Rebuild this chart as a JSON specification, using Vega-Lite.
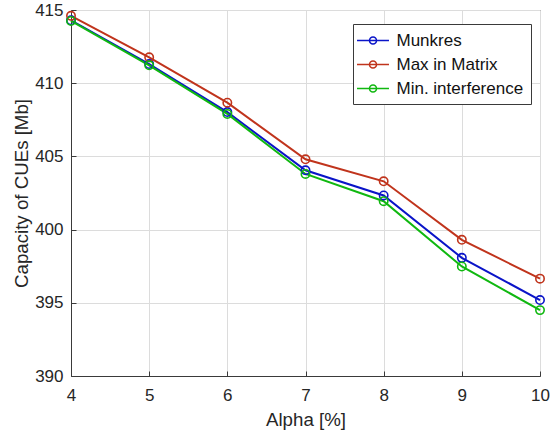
{
  "$schema": "https://vega.github.io/schema/vega-lite/v6.json",
  "width": 469,
  "height": 366,
  "autosize": "none",
  "padding": {"left": 71, "top": 10, "right": 10, "bottom": 61},
  "background": "white",
  "config": {
    "font": "Liberation Sans",
    "view": {"stroke": "#3a3a3a", "strokeWidth": 1},
    "axis": {
      "gridColor": "#dcdcdc",
      "gridWidth": 1,
      "domainColor": "#3a3a3a",
      "labelColor": "#262626",
      "titleColor": "#262626",
      "labelFont": "Liberation Sans",
      "titleFont": "Liberation Sans",
      "labelFontSize": 17,
      "titleFontSize": 18.7,
      "titleFontWeight": "normal",
      "ticks": true,
      "tickSize": -5,
      "tickColor": "#3a3a3a"
    },
    "legend": {
      "labelFont": "Liberation Sans",
      "labelFontSize": 17,
      "labelColor": "#111111"
    }
  },
  "data": {
    "values": [
      {"alpha": 4, "value": 414.3, "method": "Munkres"},
      {"alpha": 5, "value": 411.31, "method": "Munkres"},
      {"alpha": 6, "value": 408.03, "method": "Munkres"},
      {"alpha": 7, "value": 404.05, "method": "Munkres"},
      {"alpha": 8, "value": 402.33, "method": "Munkres"},
      {"alpha": 9, "value": 398.07, "method": "Munkres"},
      {"alpha": 10, "value": 395.19, "method": "Munkres"},
      {"alpha": 4, "value": 414.6, "method": "Max in Matrix"},
      {"alpha": 5, "value": 411.77, "method": "Max in Matrix"},
      {"alpha": 6, "value": 408.67, "method": "Max in Matrix"},
      {"alpha": 7, "value": 404.8, "method": "Max in Matrix"},
      {"alpha": 8, "value": 403.3, "method": "Max in Matrix"},
      {"alpha": 9, "value": 399.3, "method": "Max in Matrix"},
      {"alpha": 10, "value": 396.65, "method": "Max in Matrix"},
      {"alpha": 4, "value": 414.25, "method": "Min. interference"},
      {"alpha": 5, "value": 411.22, "method": "Min. interference"},
      {"alpha": 6, "value": 407.9, "method": "Min. interference"},
      {"alpha": 7, "value": 403.8, "method": "Min. interference"},
      {"alpha": 8, "value": 401.94, "method": "Min. interference"},
      {"alpha": 9, "value": 397.48, "method": "Min. interference"},
      {"alpha": 10, "value": 394.5, "method": "Min. interference"}
    ]
  },
  "encoding": {
    "x": {
      "field": "alpha",
      "type": "quantitative",
      "scale": {"domain": [4, 10], "nice": false, "zero": false},
      "axis": {"title": "Alpha [%]", "values": [4, 5, 6, 7, 8, 9, 10], "labelPadding": 16, "titlePadding": 7, "labelFlush": false}
    },
    "y": {
      "field": "value",
      "type": "quantitative",
      "scale": {"domain": [390, 415], "nice": false, "zero": false},
      "axis": {"title": "Capacity of CUEs [Mb]", "values": [390, 395, 400, 405, 410, 415], "labelPadding": 13, "titlePadding": 3, "labelFlush": false}
    },
    "color": {
      "field": "method",
      "type": "nominal",
      "scale": {
        "domain": ["Munkres", "Max in Matrix", "Min. interference"],
        "range": ["#0a14c8", "#c0341c", "#10b810"]
      },
      "legend": {
        "title": null,
        "orient": "none",
        "legendX": 282,
        "legendY": 14,
        "fillColor": "white",
        "strokeColor": "#3a3a3a",
        "padding": 7,
        "symbolType": "M-1.88,0H1.88M0.41,0A0.41,0.41,0,1,1,-0.41,0A0.41,0.41,0,1,1,0.41,0",
        "symbolSize": 289,
        "symbolStrokeWidth": 1.6,
        "symbolFillColor": "transparent",
        "symbolOffset": 3.5,
        "rowPadding": 6,
        "labelOffset": 14
      }
    }
  },
  "layer": [
    {
      "mark": {"type": "line", "strokeWidth": 2},
      "encoding": {"order": {"field": "alpha", "type": "quantitative"}}
    },
    {
      "mark": {"type": "point", "shape": "circle", "filled": false, "size": 70, "strokeWidth": 1.6, "opacity": 1}
    }
  ]
}
